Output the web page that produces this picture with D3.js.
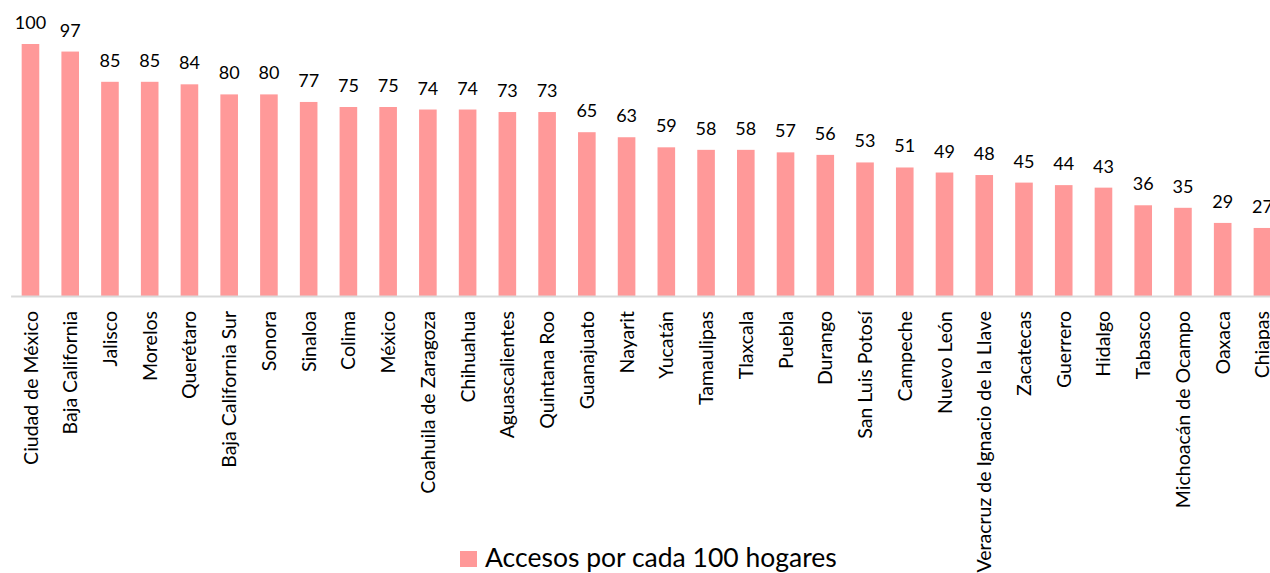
<!DOCTYPE html>
<head>
  <script src="https://d3js.org/d3.v7.min.js"></script>
  <style>
    body { margin: 0; background: #fff; }
    text { font-family: Lato, "Open Sans", sans-serif; fill: #000; }
  </style>
</head>
<body>
  <svg width="1270" height="573"></svg>
  <script>
    const states = ["Ciudad de México", "Baja California", "Jalisco", "Morelos", "Querétaro",
      "Baja California Sur", "Sonora", "Sinaloa", "Colima", "México", "Coahuila de Zaragoza",
      "Chihuahua", "Aguascalientes", "Quintana Roo", "Guanajuato", "Nayarit", "Yucatán",
      "Tamaulipas", "Tlaxcala", "Puebla", "Durango", "San Luis Potosí", "Campeche", "Nuevo León",
      "Veracruz de Ignacio de la Llave", "Zacatecas", "Guerrero", "Hidalgo", "Tabasco",
      "Michoacán de Ocampo", "Oaxaca", "Chiapas"];
    const accesos = [100, 97, 85, 85, 84, 80, 80, 77, 75, 75, 74, 74, 73, 73, 65, 63, 59,
      58, 58, 57, 56, 53, 51, 49, 48, 45, 44, 43, 36, 35, 29, 27];
    const seriesName = "Accesos por cada 100 hogares";

    const svg = d3.select("svg");
    const color = "#ff9999";
    const baseY = 296;

    const x = d3.scaleBand()
      .domain(states)
      .range([10.6, 1282.3])
      .paddingInner(0.557)
      .paddingOuter(0.2785);

    const y = d3.scaleLinear()
      .domain([0, 100])
      .range([baseY, 44]);

    // bars
    svg.selectAll(".bar")
      .data(states)
      .enter().append("rect")
      .attr("class", "bar")
      .attr("x", d => x(d))
      .attr("width", x.bandwidth())
      .attr("y", (d, i) => y(accesos[i]))
      .attr("height", (d, i) => baseY - y(accesos[i]))
      .style("fill", color);

    // value labels
    svg.selectAll(".val")
      .data(states)
      .enter().append("text")
      .attr("class", "val")
      .attr("x", d => x(d) + x.bandwidth() / 2)
      .attr("y", (d, i) => y(accesos[i]) - 15)
      .attr("text-anchor", "middle")
      .style("font-size", "18px")
      .text((d, i) => accesos[i]);

    // axis
    const xAxis = d3.axisBottom(x).tickSize(0).tickPadding(0);
    const g = svg.append("g")
      .attr("transform", `translate(0,${baseY})`)
      .call(xAxis);
    g.select(".domain").attr("stroke", "#d9d9d9").attr("stroke-width", 2);
    g.selectAll(".tick text")
      .attr("transform", "rotate(-90)")
      .attr("x", -15)
      .attr("y", 0)
      .attr("dy", "0.36em")
      .attr("text-anchor", "end")
      .style("font-family", "Lato, 'Open Sans', sans-serif")
      .style("font-size", "19.5px")
      .style("fill", "#000");

    // legend
    const lg = svg.append("g").attr("transform", "translate(460,551)");
    lg.append("rect").attr("width", 17).attr("height", 16).style("fill", color);
    lg.append("text").attr("x", 25).attr("y", 16)
      .style("font-size", "26.5px")
      .text(seriesName);
  </script>
</body>
